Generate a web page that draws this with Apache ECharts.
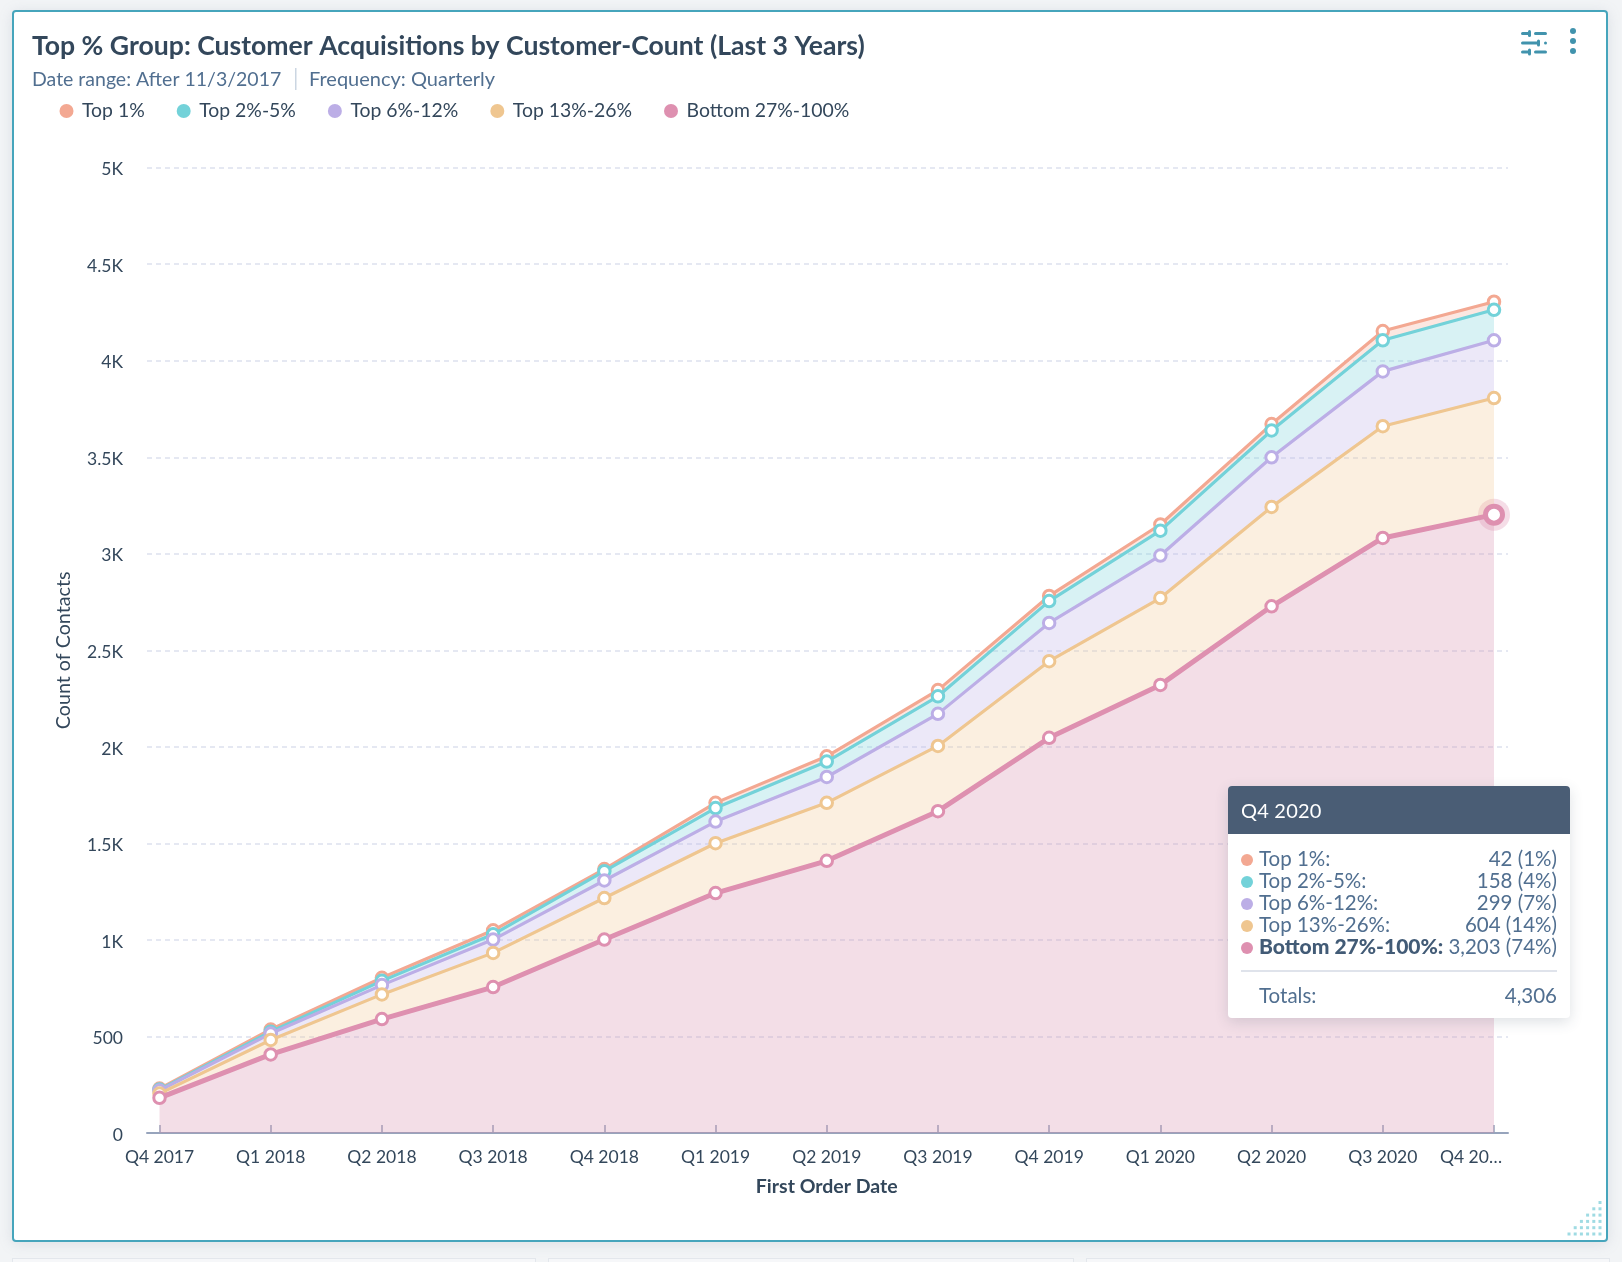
<!DOCTYPE html>
<html>
<head>
<meta charset="utf-8">
<title>Top % Group</title>
<style>
html, body { margin: 0; padding: 0; background: #f2f4f6; overflow: hidden; }
.m-card { position: absolute; left: 12px; top: 10px; width: 1592px; height: 1228px; background: #fff;
    border: 2px solid #46a5bc; border-radius: 4px; box-shadow: 0 2px 14px rgba(120,135,155,.18); }
.m-under { position: absolute; top: 1258px; height: 10px; background: #f6f7f9; border: 1px solid #e3e7ec; }
#chart { position: absolute; left: 0; top: 0; width: 1622px; height: 1262px; }
.m-tip { width: 342px; font-family: Lato, sans-serif; color: #516f90; font-size: 20.5px; }
.m-tip .hd { height: 48px; line-height: 48px; background: #4a5d75; color: #fff; padding-left: 13px; font-size: 20px; letter-spacing: .2px; border-radius: 4px 4px 0 0; }
.m-tip .bd { padding: 13px 13px 0 13px; }
.m-tip .row { display: flex; justify-content: space-between; height: 22px; line-height: 22px; white-space: nowrap; }
.m-tip .dot { display: inline-block; width: 12px; height: 12px; border-radius: 6px; margin-right: 6px; vertical-align: 0; }
.m-tip .on { color: #425b76; font-weight: 900; font-size: 21px; }
.m-tip .sum { border-top: 2px solid #dfe3eb; margin-top: 13px; padding: 12px 0 0 18px; height: 34px; display: flex; justify-content: space-between; line-height: 22px; }
</style>
</head>
<body>
<div class="m-card"></div>
<div class="m-under" style="left:12px;width:522px"></div>
<div class="m-under" style="left:548px;width:524px"></div>
<div class="m-under" style="left:1086px;width:522px"></div>
<div id="chart"></div>
<script src="https://cdn.jsdelivr.net/npm/echarts@6/dist/echarts.min.js"></script>
<script>
const categories = ['Q4 2017', 'Q1 2018', 'Q2 2018', 'Q3 2018', 'Q4 2018', 'Q1 2019', 'Q2 2019', 'Q3 2019', 'Q4 2019', 'Q1 2020', 'Q2 2020', 'Q3 2020', 'Q4 2020'];
const bottom27 = [182, 407, 590, 756, 1002, 1243, 1410, 1667, 2047, 2321, 2728, 3082, 3203];
const top13 = [22, 75, 128, 177, 215, 258, 300, 338, 397, 450, 515, 579, 604];
const top6 = [16, 33, 48, 69, 91, 112, 134, 166, 198, 220, 257, 284, 299];
const top2 = [5, 10, 22, 27, 48, 70, 80, 91, 113, 129, 139, 161, 158];
const top1 = [5, 11, 16, 21, 11, 27, 27, 32, 27, 32, 33, 48, 42];

const legendNames = ['Top 1%', 'Top 2%-5%', 'Top 6%-12%', 'Top 13%-26%', 'Bottom 27%-100%'];
const legendColors = ['#f3a892', '#73d2d9', '#bcaee6', '#efc690', '#de90b0'];
const areaColors = ['#f3a892', '#73d2d9', '#bcaee6', '#efc690', '#d58aa8'];
const legendValues = [top1, top2, top6, top13, bottom27];

const font = 'Lato, sans-serif';
const last = categories.length - 1;
let myChart = echarts.init(document.getElementById('chart'));

// 从底部开始堆叠，越靠下的线层级越高
let series = [];
for (let i = legendNames.length - 1; i >= 0; i--) {
    let isBottom = i === legendNames.length - 1;
    let data = legendValues[i].slice();
    if (isBottom) {
        data[last] = { value: data[last], symbolSize: 17, itemStyle: { borderWidth: 5 } };
    }
    series.push({
        name: legendNames[i],
        type: 'line',
        xAxisIndex: 1,
        yAxisIndex: 1,
        stack: 'all',
        z: 10 + i,
        data: data,
        symbol: 'circle',
        symbolSize: 11.5,
        showAllSymbol: true,
        emphasis: { disabled: true },
        lineStyle: { color: legendColors[i], width: isBottom ? 5 : 3.2 },
        itemStyle: { color: '#fff', borderColor: legendColors[i], borderWidth: 3, opacity: 1 },
        areaStyle: { color: areaColors[i], opacity: 0.28 }
    });
}
// 选中点外圈
series.push({
    name: 'halo',
    type: 'scatter',
    xAxisIndex: 1,
    yAxisIndex: 1,
    z: 9,
    silent: true,
    symbolSize: 32,
    tooltip: { show: false },
    itemStyle: { color: legendColors[4], opacity: 0.3 },
    data: [[last, bottom27[last]]]
});

function rect(x, y, w, h, fill) {
    return { type: 'rect', silent: true, shape: { x: x, y: y, width: w, height: h, r: h / 2 }, style: { fill: fill } };
}
function dot(x, y, r, fill) {
    return { type: 'circle', silent: true, shape: { cx: x, cy: y, r: r }, style: { fill: fill } };
}

let iconColor = '#4193ad';
let graphics = [
    { type: 'rect', silent: true, shape: { x: 295, y: 68, width: 1.5, height: 22 }, style: { fill: '#cbd6e2' } },
    rect(1521, 32, 9, 3, iconColor), rect(1528, 30, 3, 7, iconColor), rect(1534, 32, 13, 3, iconColor),
    rect(1521, 41.5, 19, 3, iconColor), rect(1537, 39.5, 3, 7, iconColor), rect(1544, 41.5, 3, 3, iconColor),
    rect(1521, 50.5, 9, 3, iconColor), rect(1528, 48.5, 3, 7, iconColor), rect(1534, 50.5, 13, 3, iconColor),
    dot(1573, 31, 3, iconColor), dot(1573, 41, 3, iconColor), dot(1573, 51, 3, iconColor)
];
// 右下角拖拽点阵
for (let row = 0; row < 6; row++) {
    for (let col = row; col < 6; col++) {
        graphics.push({ type: 'rect', silent: true, shape: { x: 1569 + col * 6.2 - 1.5, y: 1234 - row * 6.3 - 1.5, width: 3, height: 3 }, style: { fill: '#9fdbe3' } });
    }
}

function tipHtml() {
    let total = 0;
    legendValues.forEach((v) => { total += v[last]; });
    let html = '<div class="m-tip"><div class="hd">' + categories[last] + '</div><div class="bd">';
    legendNames.forEach((name, i) => {
        let v = legendValues[i][last];
        html += '<div class="row"><span class="' + (i === 4 ? 'on' : '') + '"><i class="dot" style="background:' + legendColors[i] + '"></i>' + name + ':</span>' +
            '<span>' + v.toLocaleString('en-US') + ' (' + Math.round(v / total * 100) + '%)</span></div>';
    });
    html += '<div class="sum"><span>Totals:</span><span>' + total.toLocaleString('en-US') + '</span></div></div></div>';
    return html;
}

let axisColor = '#97a4bc';
myChart.setOption({
    animation: false,
    textStyle: { fontFamily: font },
    title: [
        { text: 'Top % Group: Customer Acquisitions by Customer-Count (Last 3 Years)', left: 32, top: 33, padding: 0,
            textStyle: { fontFamily: font, fontSize: 26.6, fontWeight: 'bold', color: '#33475b' } },
        { text: 'Date range: After 11/3/2017', left: 32, top: 70, padding: 0,
            textStyle: { fontFamily: font, fontSize: 19.5, fontWeight: 'normal', color: '#516f90' } },
        { text: 'Frequency: Quarterly', left: 309, top: 70, padding: 0,
            textStyle: { fontFamily: font, fontSize: 20, fontWeight: 'normal', color: '#516f90' } }
    ],
    legend: {
        left: 59.5,
        top: 101.5,
        padding: 0,
        itemGap: 32,
        itemWidth: 21,
        itemHeight: 14,
        icon: 'circle',
        textStyle: { fontFamily: font, fontSize: 19.4, color: '#33475b' },
        data: legendNames.map((name, i) => ({ name: name, itemStyle: { color: legendColors[i], borderWidth: 0 } }))
    },
    tooltip: {
        trigger: 'item',
        triggerOn: 'none',
        alwaysShowContent: true,
        transitionDuration: 0,
        position: [1228, 786],
        padding: 0,
        borderWidth: 0,
        backgroundColor: '#fff',
        extraCssText: 'box-shadow:0 4px 14px rgba(50,70,90,.16);border-radius:4px;',
        formatter: tipHtml
    },
    grid: [
        { left: 147, right: 114, top: 167.7, bottom: 129 },
        { left: 159.5, right: 128, top: 167.7, bottom: 129 }
    ],
    xAxis: [
        {
            gridIndex: 0, type: 'category', data: categories, boundaryGap: false,
            axisLine: { lineStyle: { color: axisColor, width: 2 } },
            axisTick: { show: false }, axisLabel: { show: false }, splitLine: { show: false }
        },
        {
            gridIndex: 1, type: 'category', boundaryGap: false,
            data: categories.map((c, i) => i === last
                ? { value: c.slice(0, 5) + '…', textStyle: { padding: [0, 46, 0, 0] } } : c),
            name: 'First Order Date',
            nameLocation: 'middle',
            nameGap: 44,
            nameTextStyle: { fontFamily: font, fontSize: 19.5, fontWeight: 'bold', color: '#33475b' },
            axisLine: { show: false },
            axisTick: { show: true, inside: true, length: 8, alignWithLabel: true, lineStyle: { color: axisColor, width: 1.5 } },
            axisLabel: { interval: 0, fontFamily: font, fontSize: 17.5, color: '#33475b', margin: 15, showMinLabel: true, showMaxLabel: true, hideOverlap: false },
            splitLine: { show: false }
        }
    ],
    yAxis: [
        {
            gridIndex: 0, type: 'value', min: 0, max: 5000, interval: 500,
            name: 'Count of Contacts',
            nameLocation: 'middle',
            nameGap: 73,
            nameRotate: 90,
            nameTextStyle: { fontFamily: font, fontSize: 19.7, color: '#33475b' },
            axisLine: { show: false }, axisTick: { show: false },
            axisLabel: {
                margin: 24,
                formatter: (value) => '{a|' + (value >= 1000 ? value / 1000 + 'K' : value) + '}',
                rich: { a: { fontFamily: font, fontSize: 17.5, color: '#33475b', padding: [4, 0, 0, 0] } }
            },
            splitLine: { lineStyle: { color: '#dde1ee', type: [5, 4], width: 1.5 } }
        },
        {
            gridIndex: 1, type: 'value', min: 0, max: 5000, interval: 500, show: false
        }
    ],
    graphic: graphics,
    series: series
});
myChart.dispatchAction({ type: 'showTip', seriesIndex: 0, dataIndex: last });
</script>
</body>
</html>
